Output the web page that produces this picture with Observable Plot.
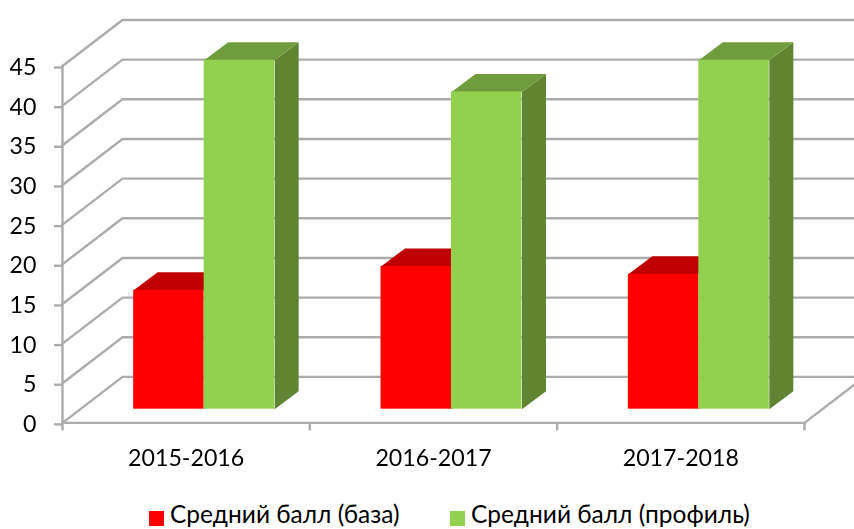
<!DOCTYPE html>
<html lang="ru">
<head>
<meta charset="utf-8">
<script src="https://cdn.jsdelivr.net/npm/d3@7"></script>
<script src="https://cdn.jsdelivr.net/npm/@observablehq/plot@0.6"></script>
<style>
  html, body { margin: 0; padding: 0; background: #fff; overflow: hidden; }
  #chart svg { display: block; filter: blur(0.45px); }
  #legend { display: flex; height: 30px; padding-left: 149px; box-sizing: border-box;
    font: 24.5px Lato, "Open Sans", sans-serif; line-height: 30px; color: #000; }
  .item { display: flex; align-items: center; height: 30px; }
  .item:first-child { width: 301px; }
  .sw { width: 15px; height: 15px; margin-right: 6px; transform: translateY(4px); }
</style>
</head>
<body>
<div id="chart"></div>
<div id="legend"></div>
<script>
const categories = ["2015-2016", "2016-2017", "2017-2018"];
const baseScores = [15, 18, 17];
const profileScores = [44, 40, 44];
const seriesNames = ["Средний балл (база)", "Средний балл (профиль)"];
const yTicks = [0, 5, 10, 15, 20, 25, 30, 35, 40, 45];

const redFace = "#ff0000", redTop = "#c00000", redSide = "#a00000";
const greenFace = "#92d050", greenTop = "#6f9c3c", greenSide = "#5f8532";
const gridColor = "#acacac";

// 3D projection offsets, in data units
const wallDx = 0.2426, wallDy = 5.8;       // floor depth
const frontDx = 0.0728, frontDy = 1.73;    // gap from the front edge to the bars
const barDx = 0.097, barDy = 2.27;         // depth of a bar
const barW = 0.285, gapW = (1 - 2 * barW) / 2;

// one row per bar, drawn red before green
const bars = [
  ...baseScores.map((v, i) => ({v, i, k: 0, face: redFace, top: redTop, side: redSide})),
  ...profileScores.map((v, i) => ({v, i, k: 1, face: greenFace, top: greenTop, side: greenSide}))
].map(d => {
  const x1 = d.i + gapW + d.k * barW + frontDx, x2 = x1 + barW;
  return {...d, x1, x2, y1: frontDy, y2: d.v + frontDy};
});

const tops = bars.flatMap(b => [[b.x1, b.y2], [b.x2, b.y2], [b.x2 + barDx, b.y2 + barDy], [b.x1 + barDx, b.y2 + barDy]]
  .map(([x, y]) => ({x, y, id: b.k + "-" + b.i})));
const sides = bars.flatMap(b => [[b.x2, b.y1], [b.x2, b.y2], [b.x2 + barDx, b.y2 + barDy], [b.x2 + barDx, b.y1 + barDy]]
  .map(([x, y]) => ({x, y, id: b.k + "-" + b.i})));
const colorOf = id => bars.find(b => b.k + "-" + b.i === id);

const xEnd = categories.length;
const gridLines = yTicks.flatMap(t => [
  {x: 0, y: t, t}, {x: wallDx, y: t + wallDy, t}, {x: xEnd + wallDx, y: t + wallDy, t}
]);
const floorRight = [{x: xEnd, y: 0}, {x: xEnd + wallDx, y: wallDy}];
const floorFront = [{x: 0, y: 0}, {x: xEnd, y: 0}];
const axisLeft = [{x: 0, y: 0}, {x: 0, y: yTicks[yTicks.length - 1]}];

const lineStyle = {x: "x", y: "y", stroke: gridColor, strokeWidth: 2.4};

const plot = Plot.plot({
  width: 854,
  height: 499,
  marginLeft: 62,
  marginRight: 50,
  marginTop: 65.5,
  marginBottom: 76.6,
  style: {background: "#fff", fontFamily: "Lato, 'Open Sans', sans-serif", fontSize: "23.2px", color: "#000", overflow: "hidden"},
  x: {type: "linear", domain: [0, xEnd]},
  y: {domain: [0, 45]},
  marks: [
    Plot.line(gridLines, {...lineStyle, z: "t"}),
    Plot.line(floorRight, lineStyle),
    Plot.line(floorFront, lineStyle),
    Plot.line(axisLeft, lineStyle),
    Plot.axisY({ticks: yTicks, tickSize: 8, tickPadding: 18, stroke: gridColor, strokeWidth: 2.4, fill: "#000", strokeOpacity: 1, label: null, fontSize: 23.2, dy: 1.5}),
    Plot.axisX({ticks: d3.range(xEnd + 1), tickSize: 8, tickFormat: () => "", stroke: gridColor, strokeWidth: 2.4, strokeOpacity: 1, label: null}),
    Plot.axisX({ticks: categories.map((c, i) => i + 0.5), tickSize: 0, tickPadding: 27, tickFormat: v => categories[Math.floor(v)], fill: "#000", label: null, fontSize: 23.2}),
    Plot.line(sides, {x: "x", y: "y", z: "id", fill: d => colorOf(d.id).side, stroke: "none"}),
    Plot.line(tops, {x: "x", y: "y", z: "id", fill: d => colorOf(d.id).top, stroke: "none"}),
    Plot.rect(bars, {x1: "x1", x2: "x2", y1: "y1", y2: "y2", fill: "face"})
  ]
});
document.getElementById("chart").append(plot);

const legend = document.getElementById("legend");
seriesNames.forEach((name, i) => {
  const item = document.createElement("div");
  item.className = "item";
  const sw = document.createElement("span");
  sw.className = "sw";
  sw.style.background = [redFace, greenFace][i];
  const label = document.createElement("span");
  label.textContent = name;
  item.append(sw, label);
  legend.append(item);
});
</script>
</body>
</html>
